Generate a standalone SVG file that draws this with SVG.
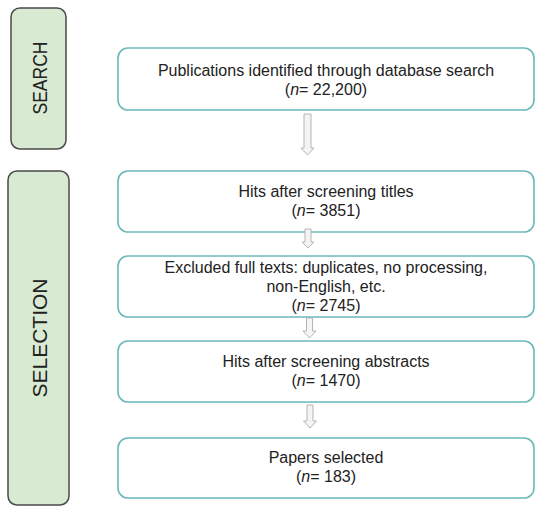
<svg xmlns="http://www.w3.org/2000/svg" width="550" height="514" viewBox="0 0 550 514">
<defs>
<style>
.phase{fill:#d9ead3;stroke:#4a4a4a;stroke-width:1.5}
.box{fill:#ffffff;stroke:#6bb9b9;stroke-width:1.6}
.t{font-family:"Liberation Sans",Arial,sans-serif;font-size:16px;fill:#222;text-anchor:middle}
.pt{font-family:"Liberation Sans",Arial,sans-serif;font-size:20px;fill:#222;text-anchor:middle}
.arr{fill:#f4f4f4;stroke:#b5b5b5;stroke-width:1}
</style>
</defs>
<rect width="550" height="514" fill="#ffffff"/>
<g id="search-phase">
<rect class="phase" x="11" y="8" width="55" height="141" rx="9"/>
<text class="pt" transform="translate(46.5,78) rotate(-90)" textLength="73" lengthAdjust="spacingAndGlyphs">SEARCH</text>
</g>
<g id="selection-phase">
<rect class="phase" x="8" y="171" width="61" height="334" rx="9"/>
<text class="pt" transform="translate(47,338) rotate(-90)" textLength="119" lengthAdjust="spacingAndGlyphs">SELECTION</text>
</g>
<g id="n1">
<rect class="box" x="118" y="48" width="416" height="62" rx="10"/>
<text class="t" x="326" y="76">Publications identified through database search</text>
<text class="t" x="326" y="95">(<tspan font-style="italic">n</tspan>= 22,200)</text>
</g>
<g id="n2">
<rect class="box" x="118" y="171" width="416" height="61" rx="10"/>
<text class="t" x="326" y="197">Hits after screening titles</text>
<text class="t" x="326" y="216">(<tspan font-style="italic">n</tspan>= 3851)</text>
</g>
<g id="n3">
<rect class="box" x="118" y="256" width="416" height="61" rx="10"/>
<text class="t" x="326" y="273">Excluded full texts: duplicates, no processing,</text>
<text class="t" x="326" y="292">non-English, etc.</text>
<text class="t" x="326" y="311">(<tspan font-style="italic">n</tspan>= 2745)</text>
</g>
<g id="n4">
<rect class="box" x="118" y="341" width="416" height="61" rx="10"/>
<text class="t" x="326" y="367">Hits after screening abstracts</text>
<text class="t" x="326" y="386">(<tspan font-style="italic">n</tspan>= 1470)</text>
</g>
<g id="n5">
<rect class="box" x="118" y="438" width="416" height="60" rx="10"/>
<text class="t" x="326" y="463">Papers selected</text>
<text class="t" x="326" y="482">(<tspan font-style="italic">n</tspan>= 183)</text>
</g>
<g id="connectors">
<polygon class="arr" points="304,114 311,114 311,148 314,148 307.5,155 301,148 304,148"/>
<polygon class="arr" points="305,229 311,229 311,242 314,242 308,248 302,242 305,242"/>
<polygon class="arr" points="306.5,318 312.5,318 312.5,331 316,331 309.5,338 303,331 306.5,331"/>
<polygon class="arr" points="307,405 313,405 313,421 316.5,421 310,428 303.5,421 307,421"/>
</g>
</svg>
